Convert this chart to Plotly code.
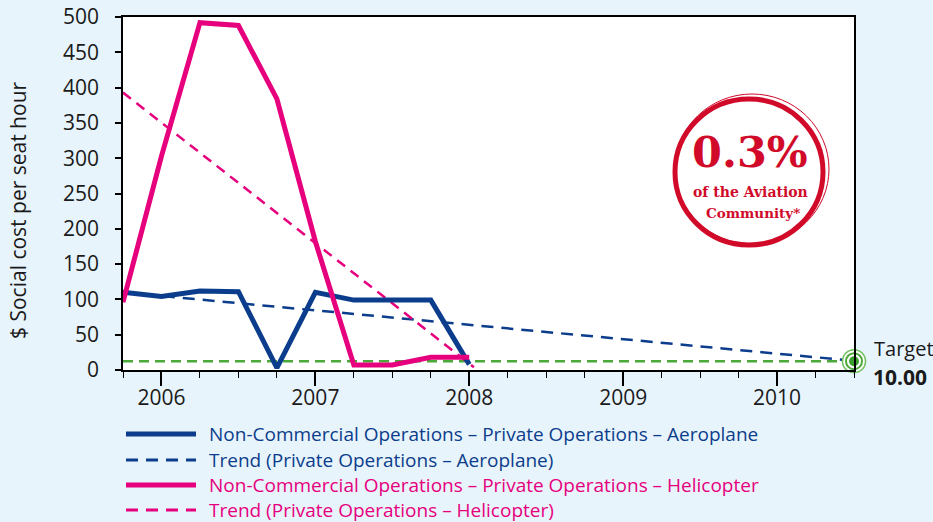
import plotly.graph_objects as go

# ---- data ----
quarters = [2005.75, 2006.0, 2006.25, 2006.5, 2006.75, 2007.0, 2007.25, 2007.5, 2007.75, 2008.0]
aeroplane = [110, 104, 112, 111, 3, 110, 99, 99, 99, 8]
helicopter = [96, 303, 492, 488, 384, 182, 7, 7, 18, 18]

aero_trend_x = [2005.75, 2010.5]
aero_trend_y = [110, 13]
heli_trend_x = [2005.75, 2008.03]
heli_trend_y = [393, 4]

target_x = [2005.75, 2010.5]
target_y = [12.5, 12.5]
target_label = "Target"
target_value = "10.00"

year_ticks = [2006, 2007, 2008, 2009, 2010]
y_ticks = list(range(0, 501, 50))

legend_names = [
    "Non-Commercial Operations – Private Operations – Aeroplane",
    "Trend (Private Operations – Aeroplane)",
    "Non-Commercial Operations – Private Operations – Helicopter",
    "Trend (Private Operations – Helicopter)",
]

BLUE = "#0b3d8c"
PINK = "#e6007e"
GREEN = "#4da83a"
RED = "#d10a2a"
BG = "#e8f4fb"
FONT = "Open Sans"

W, H = 933, 522
L, R, T, B = 123, 79, 17, 152
PW, PH = W - L - R, H - T - B


def pxx(x):
    return (x - L) / PW


def pxy(y):
    return (H - B - y) / PH


fig = go.Figure()

fig.add_trace(go.Scatter(x=target_x, y=target_y, mode="lines",
                         line=dict(color=GREEN, width=2.5, dash="10px,6px"),
                         showlegend=False, hoverinfo="skip"))
fig.add_trace(go.Scatter(x=aero_trend_x, y=aero_trend_y, mode="lines", name=legend_names[1],
                         line=dict(color=BLUE, width=2.5, dash="12px,8px"), showlegend=False))
fig.add_trace(go.Scatter(x=heli_trend_x, y=heli_trend_y, mode="lines", name=legend_names[3],
                         line=dict(color=PINK, width=2.5, dash="10px,7px"), showlegend=False))
fig.add_trace(go.Scatter(x=quarters, y=aeroplane, mode="lines", name=legend_names[0],
                         line=dict(color=BLUE, width=5), showlegend=False))
fig.add_trace(go.Scatter(x=quarters, y=helicopter, mode="lines", name=legend_names[2],
                         line=dict(color=PINK, width=5), showlegend=False))

# target marker (concentric rings)
fig.add_trace(go.Scatter(x=[target_x[-1]], y=[target_y[-1]], mode="markers", cliponaxis=False,
                         marker=dict(size=23, color="white", line=dict(color="#6cbf5a", width=1.5)),
                         showlegend=False, hoverinfo="skip"))
fig.add_trace(go.Scatter(x=[target_x[-1]], y=[target_y[-1]], mode="markers", cliponaxis=False,
                         marker=dict(size=16, color="white", line=dict(color=GREEN, width=2)),
                         showlegend=False, hoverinfo="skip"))
fig.add_trace(go.Scatter(x=[target_x[-1]], y=[target_y[-1]], mode="markers", cliponaxis=False,
                         marker=dict(size=10, color="#3a9f2b", line=dict(width=0)),
                         showlegend=False, hoverinfo="skip"))

annotations = []
shapes = []

# target text
annotations.append(dict(xref="paper", yref="paper", x=pxx(872), y=pxy(348), text=target_label,
                        showarrow=False, xanchor="left", yanchor="middle",
                        font=dict(family=FONT, size=20, color="#1a1a1a")))
annotations.append(dict(xref="paper", yref="paper", x=pxx(871), y=pxy(377), text="<b>" + target_value + "</b>",
                        showarrow=False, xanchor="left", yanchor="middle",
                        font=dict(family=FONT, size=21, color="#1a1a1a")))

# y-axis title
annotations.append(dict(xref="paper", yref="paper", x=pxx(18), y=pxy(210),
                        text="$ Social cost per seat hour", textangle=-90, showarrow=False,
                        xanchor="center", yanchor="middle",
                        font=dict(family=FONT, size=21, color="#1a1a1a")))

# manual legend
rows_y = [434, 460, 485, 510]
styles = [(BLUE, 5, "solid"), (BLUE, 3, "12px,8px"), (PINK, 5, "solid"), (PINK, 3, "12px,8px")]
for name, ry, (col, wd, ds) in zip(legend_names, rows_y, styles):
    shapes.append(dict(type="line", xref="paper", yref="paper",
                       x0=pxx(126), x1=pxx(196), y0=pxy(ry), y1=pxy(ry),
                       line=dict(color=col, width=wd, dash=ds)))
    annotations.append(dict(xref="paper", yref="paper", x=pxx(207), y=pxy(ry), text=name,
                            showarrow=False, xanchor="left", yanchor="middle",
                            font=dict(family=FONT, size=19, color=col)))

# badge
cx, cy = 750, 171
shapes.append(dict(type="circle", xref="paper", yref="paper", xsizemode="pixel", ysizemode="pixel",
                   xanchor=pxx(cx - 1), yanchor=pxy(cy + 1), x0=-74, x1=74, y0=-73, y1=73,
                   line=dict(color=RED, width=5)))
shapes.append(dict(type="circle", xref="paper", yref="paper", xsizemode="pixel", ysizemode="pixel",
                   xanchor=pxx(cx + 2), yanchor=pxy(cy - 2), x0=-77, x1=77, y0=-75, y1=75,
                   line=dict(color=RED, width=1)))
annotations.append(dict(xref="paper", yref="paper", x=pxx(cx), y=pxy(152), text="<b>0.3%</b>",
                        showarrow=False, xanchor="center", yanchor="middle",
                        font=dict(family="DejaVu Serif", size=43, color=RED)))
annotations.append(dict(xref="paper", yref="paper", x=pxx(cx), y=pxy(192), text="<b>of the Aviation</b>",
                        showarrow=False, xanchor="center", yanchor="middle",
                        font=dict(family="DejaVu Serif", size=14, color=RED)))
annotations.append(dict(xref="paper", yref="paper", x=pxx(cx + 3), y=pxy(213), text="<b>Community*</b>",
                        showarrow=False, xanchor="center", yanchor="middle",
                        font=dict(family="DejaVu Serif", size=13.5, color=RED)))

fig.update_layout(
    width=W, height=H,
    margin=dict(l=L, r=R, t=T, b=B, autoexpand=False),
    paper_bgcolor=BG, plot_bgcolor="white",
    showlegend=False,
    annotations=annotations, shapes=shapes,
    xaxis=dict(range=[2005.75, 2010.5], tickvals=year_ticks, ticktext=[str(v) for v in year_ticks],
               ticks="outside", ticklen=14, tickwidth=1.5, tickcolor="black", automargin=False,
               ticklabelstandoff=-6,
               minor=dict(dtick=0.25, tick0=2006, ticks="outside", ticklen=6, tickwidth=1.2, tickcolor="black"),
               showline=True, linecolor="black", linewidth=1.5, mirror=True, showgrid=False, zeroline=False,
               tickfont=dict(family=FONT, size=21, color="#1a1a1a")),
    yaxis=dict(range=[0, 500], tickvals=y_ticks, ticks="outside", ticklen=6, tickwidth=1.5, tickcolor="black",
               showline=True, linecolor="black", linewidth=1.5, mirror=True, showgrid=False, zeroline=False,
               ticklabelstandoff=12, automargin=False,
               tickfont=dict(family=FONT, size=21, color="#1a1a1a")),
)

fig.write_html("out.html", config={"displayModeBar": False},
               post_script="document.body.style.margin='0';document.body.style.overflow='hidden';")
